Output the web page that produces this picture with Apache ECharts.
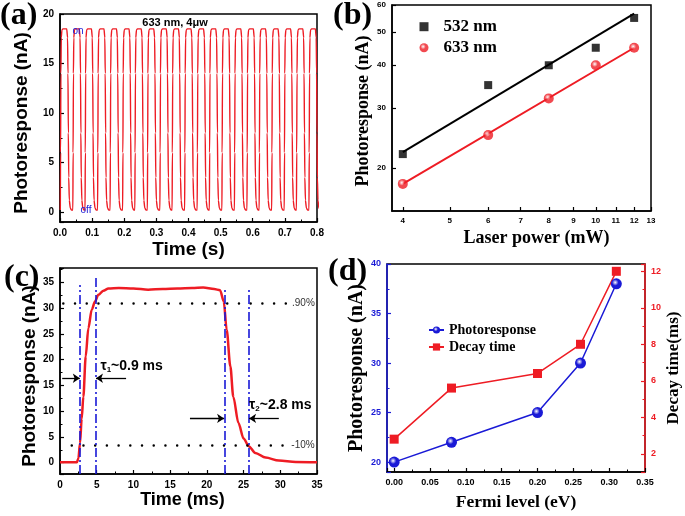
<!DOCTYPE html>
<html><head><meta charset="utf-8">
<script src="https://cdn.jsdelivr.net/npm/echarts@6/dist/echarts.min.js"></script>
<style>html,body{margin:0;padding:0;background:#fff}#c{width:685px;height:516px}</style>
</head><body><div id="c"></div>
<script>
// ---------- Panel (a): on/off square-wave response ----------
const aPulseStart = [0.001,0.040,0.078,0.117,0.156,0.195,0.233,0.272,0.311,0.349,0.388,0.427,0.465,0.504,0.543,0.582,0.620,0.659,0.698,0.736,0.775];
const aShapeOffset = [0,0.0008,0.0018,0.003,0.005,0.008,0.020,0.0225,0.0238,0.025,0.0262,0.028,0.031,0.035];
const aShapeValue  = [0.2,6,14,17.6,18.4,18.5,18.5,17.6,14,8,3.5,1.2,0.4,0.2];
const aNotes = ['633 nm, 4\u03bcw','on','off'];

// ---------- Panel (b): power dependence ----------
const bPower = [4,6,8,10,12];
const b532 = [22,35,40,45,55];
const b633 = [18,25,32,40,45];
const bFitPower = [4,12];
const bFit532 = [22.3,56.6];
const bFit633 = [18,45];
const bTicksX = [4,5,6,7,8,9,10,11,12,13];
const bTicksY = [20,30,40,50,60];

// ---------- Panel (c): single pulse ----------
const cTime  = [0,1,2,2.3,2.5,2.73,2.95,3.18,3.5,3.86,4.32,4.77,5.23,5.9,6.6,8,10,12,14,16,18,19.5,21,21.8,22.3,22.7,23.2,23.6,24.3,25.0,25.7,26.6,28.0,29.8,32.1,35];
const cValue = [0.1,0.1,0.1,0.1,0.8,3.8,8.5,12.8,20.6,26.1,29.7,31.3,32.6,33.4,33.8,33.9,33.8,33.6,33.7,33.8,33.9,34.0,33.7,33.5,31.3,25.8,18.7,12.8,7.7,4.7,3.2,1.9,1.0,0.4,0.15,0.1];
const cMarkTimes = [2.73,4.86,22.4,25.7];
const cMarkTops  = [34.5,36,34.1,34.1];
const cLevels = [31,3.3];
const cLevelText = ['.90%','-10%'];

// ---------- Panel (d): Fermi level ----------
const dFermi = [0,0.08,0.2,0.26,0.31];
const dPhoto = [20,22,25,30,38];
const dDecay = [2.8,5.6,6.4,8,12];

const SANS = 'Liberation Sans, Arial, sans-serif';
const SERIF = 'Liberation Serif, Times New Roman, serif';

function merge(a, b) {
  const o = Object.assign({}, a);
  for (const k in b) {
    const bv = b[k], av = a ? a[k] : undefined;
    if (bv && typeof bv === 'object' && !Array.isArray(bv) && av && typeof av === 'object' && !Array.isArray(av)) o[k] = merge(av, bv);
    else o[k] = bv;
  }
  return o;
}
const baseAxis = {
  type: 'value',
  axisLine: {show: true, onZero: false, lineStyle: {color: '#000', width: 1.5}},
  axisTick: {show: true, inside: true, length: 4, lineStyle: {color: '#000', width: 1.2}},
  minorTick: {show: true, splitNumber: 2, length: 2.5, lineStyle: {color: '#000', width: 1}},
  splitLine: {show: false},
  axisLabel: {fontSize: 10, fontWeight: 'bold', fontFamily: SANS, color: '#000', margin: 6},
  nameLocation: 'middle',
  nameTextStyle: {fontSize: 19, fontWeight: 'bold', fontFamily: SANS, color: '#000'}
};
const ax = o => merge(baseAxis, o);
const zip = (xs, ys) => xs.map((x, i) => [x, ys[i]]);
const ball = c => ({type: 'radial', x: 0.4, y: 0.38, r: 0.65, colorStops: [{offset: 0, color: '#ffffff'}, {offset: 0.45, color: c}, {offset: 1, color: c}]});
const near = (v, step) => Math.abs(v / step - Math.round(v / step)) < 1e-6;

const aSignal = [];
aPulseStart.forEach(s => aShapeOffset.forEach((o, i) => aSignal.push([+(s + o).toFixed(4), aShapeValue[i]])));

const BLUE = '#1a1ad6', RED = '#ee1c24';

const option = {
  animation: false,
  textStyle: {fontFamily: SANS},
  grid: [
    {left: 60, top: 14, width: 257, height: 208, show: true, borderColor: '#000', borderWidth: 1.5, backgroundColor: 'transparent'},
    {left: 392, top: 5, width: 259, height: 206, show: true, borderColor: '#000', borderWidth: 1.5, backgroundColor: 'transparent'},
    {left: 60, top: 268, width: 257, height: 206, show: true, borderColor: '#000', borderWidth: 1.5, backgroundColor: 'transparent'},
    {left: 387, top: 264, width: 258, height: 208, show: true, borderColor: '#000', borderWidth: 1.5, backgroundColor: 'transparent'}
  ],
  xAxis: [
    ax({gridIndex: 0, min: 0, max: 0.8, interval: 0.1, axisLabel: {formatter: v => v.toFixed(1)}, name: 'Time (s)', nameGap: 18}),
    ax({gridIndex: 1, type: 'log', logBase: 10, min: 3.8, max: 13, minorTick: {show: false},
        axisTick: {customValues: bTicksX}, axisLabel: {fontSize: 8, customValues: bTicksX, formatter: v => String(Math.round(v))},
        name: 'Laser power (mW)', nameGap: 18, nameTextStyle: {fontFamily: SERIF, fontSize: 18, padding: [0, 0, 0, 30]}}),
    ax({gridIndex: 2, min: 0, max: 35, interval: 5, name: 'Time (ms)', nameGap: 14, nameTextStyle: {fontSize: 18, padding: [0, 12, 0, 0]}}),
    ax({gridIndex: 3, min: -0.01, max: 0.35, splitNumber: 7, axisLabel: {fontSize: 9, formatter: v => (v >= 0 && near(v, 0.05)) ? v.toFixed(2) : ''},
        name: 'Fermi level (eV)', nameGap: 21, nameTextStyle: {fontFamily: SERIF, fontSize: 17.5}})
  ],
  yAxis: [
    ax({gridIndex: 0, min: -1, max: 20, splitNumber: 4, axisLabel: {formatter: v => (v >= 0 && near(v, 5)) ? String(Math.round(v)) : ''},
        name: 'Photoresponse (nA)', nameGap: 29, nameTextStyle: {padding: [0, 10, 0, 0]}}),
    ax({gridIndex: 1, type: 'log', logBase: 10, min: 15, max: 60, minorTick: {show: false},
        axisTick: {customValues: bTicksY}, axisLabel: {fontSize: 8, customValues: bTicksY, formatter: v => String(Math.round(v))},
        name: 'Photoresponse (nA)', nameGap: 20, nameTextStyle: {fontFamily: SERIF, fontSize: 18, padding: [0, 6, 0, 0]}}),
    ax({gridIndex: 2, min: -2.2, max: 37.8, splitNumber: 8, axisLabel: {formatter: v => (v >= 0 && v <= 35.01 && near(v, 5)) ? String(Math.round(v)) : ''},
        name: 'Photoresponse (nA)', nameGap: 18, nameTextStyle: {padding: [0, 10, 0, 0]}}),
    ax({gridIndex: 3, min: 19, max: 40, splitNumber: 4,
        axisLine: {lineStyle: {color: BLUE}}, axisTick: {lineStyle: {color: BLUE}}, minorTick: {lineStyle: {color: BLUE}},
        axisLabel: {fontSize: 9, color: BLUE, formatter: v => near(v, 5) ? String(Math.round(v)) : ''},
        name: 'Photoresponse (nA)', nameGap: 18, nameTextStyle: {fontFamily: SERIF, fontSize: 20}}),
    ax({gridIndex: 3, position: 'right', min: 1, max: 12.4, splitNumber: 6,
        axisLine: {lineStyle: {color: RED}}, axisTick: {lineStyle: {color: RED}}, minorTick: {lineStyle: {color: RED}},
        axisLabel: {fontSize: 9, color: RED, formatter: v => (near(v, 2) && v >= 2) ? String(Math.round(v)) : ''},
        name: 'Decay time(ms)', nameGap: 20, nameTextStyle: {fontFamily: SERIF, fontSize: 17}})
  ],
  legend: [
    {data: ['532 nm', '633 nm'], orient: 'vertical', left: 414.5, top: 12.7, itemWidth: 9, itemHeight: 9, itemGap: 3,
     textStyle: {fontFamily: SERIF, fontWeight: 'bold', fontSize: 17, color: '#000', lineHeight: 18, padding: [0, 0, 0, 10]}},
    {data: ['Photoresponse', 'Decay time'], orient: 'vertical', left: 423, top: 317, itemWidth: 15, itemHeight: 9, itemGap: 1,
     textStyle: {fontFamily: SERIF, fontWeight: 'bold', fontSize: 14, color: '#000', lineHeight: 16}}
  ],
  series: [
    {name: 'signal', type: 'line', xAxisIndex: 0, yAxisIndex: 0, data: aSignal, showSymbol: false, smooth: 0.2, smoothMonotone: 'x',
     lineStyle: {color: RED, width: 1.4}, itemStyle: {color: RED},
     markPoint: {symbol: 'circle', symbolSize: 0, silent: true, data: [
       {coord: [0.358, 19.1], label: {show: true, position: 'inside', formatter: aNotes[0], fontSize: 11, fontWeight: 'bold', color: '#000', fontFamily: SANS}},
       {coord: [0.056, 18.3], label: {show: true, position: 'inside', formatter: aNotes[1], fontSize: 10, color: BLUE, fontFamily: SANS}},
       {coord: [0.081, 0.2], label: {show: true, position: 'inside', formatter: aNotes[2], fontSize: 10, color: BLUE, fontFamily: SANS}}
     ]}},
    {name: 'fit532', type: 'line', xAxisIndex: 1, yAxisIndex: 1, data: zip(bFitPower, bFit532), showSymbol: false, lineStyle: {color: '#000', width: 2}, z: 2},
    {name: 'fit633', type: 'line', xAxisIndex: 1, yAxisIndex: 1, data: zip(bFitPower, bFit633), showSymbol: false, lineStyle: {color: RED, width: 2}, z: 2},
    {name: '532 nm', type: 'scatter', xAxisIndex: 1, yAxisIndex: 1, data: zip(bPower, b532), symbol: 'rect', symbolSize: 8, itemStyle: {color: '#000'}, z: 3},
    {name: '633 nm', type: 'scatter', xAxisIndex: 1, yAxisIndex: 1, data: zip(bPower, b633), symbol: 'circle', symbolSize: 10, itemStyle: {color: ball(RED)}, z: 3},
    {name: 'response', type: 'line', xAxisIndex: 2, yAxisIndex: 2, data: zip(cTime, cValue), showSymbol: false, smooth: 0.3, smoothMonotone: 'x',
     lineStyle: {color: RED, width: 2.5}, z: 3,
     markPoint: {symbol: 'circle', symbolSize: 0, silent: true, data: [
       {coord: [31.6, cLevels[0]], label: {show: true, position: 'inside', align: 'left', formatter: cLevelText[0], fontSize: 10, color: '#333'}},
       {coord: [31.5, cLevels[1]], label: {show: true, position: 'inside', align: 'left', formatter: cLevelText[1], fontSize: 10, color: '#333'}},
       {coord: [5.5, 18.7], label: {show: true, position: 'inside', align: 'left', formatter: '{t|\u03c4}{s|1}{t|~0.9 ms}',
         rich: {t: {fontSize: 14, fontWeight: 'bold', color: '#000'}, s: {fontSize: 8, fontWeight: 'bold', color: '#000', padding: [7, 0, 0, 0]}}}},
       {coord: [25.75, 11.1], label: {show: true, position: 'inside', align: 'left', formatter: '{t|\u03c4}{s|2}{t|~2.8 ms}',
         rich: {t: {fontSize: 14, fontWeight: 'bold', color: '#000'}, s: {fontSize: 8, fontWeight: 'bold', color: '#000', padding: [7, 0, 0, 0]}}}}
     ]},
     markLine: {silent: true, symbol: ['none', 'none'], label: {show: false}, lineStyle: {color: '#000', width: 2.5, type: [0.01, 11.7], cap: 'round'},
       data: [
         [{coord: [0.45, cLevels[0]]}, {coord: [31.0, cLevels[0]]}],
         [{coord: [1.6, cLevels[1]]}, {coord: [31.0, cLevels[1]]}]
       ]}},
    {name: 'marks', type: 'line', xAxisIndex: 2, yAxisIndex: 2, data: [], z: 4,
     markLine: {silent: true, symbol: ['none', 'none'], label: {show: false}, lineStyle: {color: BLUE, width: 1.6, type: [9, 3, 2, 3]},
       data: cMarkTimes.map((t, i) => [{coord: [t, -2.2]}, {coord: [t, cMarkTops[i]]}])}},
    {name: 'arrows', type: 'line', xAxisIndex: 2, yAxisIndex: 2, data: [], z: 4,
     markLine: {silent: true, symbol: ['none', 'arrow'], symbolSize: 7, label: {show: false}, lineStyle: {color: '#000', width: 1.3, type: 'solid'},
       data: [
         [{coord: [0.3, 16.4]}, {coord: [2.7, 16.4]}],
         [{coord: [9.0, 16.4]}, {coord: [4.9, 16.4]}],
         [{coord: [17.7, 8.6]}, {coord: [22.35, 8.6]}],
         [{coord: [29.8, 8.6]}, {coord: [25.75, 8.6]}]
       ]}},
    {name: 'Photoresponse', type: 'line', xAxisIndex: 3, yAxisIndex: 3, data: zip(dFermi, dPhoto), symbol: 'circle', symbolSize: 11, showAllSymbol: true,
     lineStyle: {color: BLUE, width: 1.5}, itemStyle: {color: ball(BLUE)}},
    {name: 'Decay time', type: 'line', xAxisIndex: 3, yAxisIndex: 4, data: zip(dFermi, dDecay), symbol: 'rect', symbolSize: 9,
     lineStyle: {color: RED, width: 1.5}, itemStyle: {color: RED}}
  ],
  graphic: [
    {type: 'text', left: 0, top: 0, style: {text: '(a)', font: 'bold 32px ' + SERIF, fill: '#000'}},
    {type: 'text', left: 333, top: 0, style: {text: '(b)', font: 'bold 32px ' + SERIF, fill: '#000'}},
    {type: 'text', left: 4, top: 262, style: {text: '(c)', font: 'bold 32px ' + SERIF, fill: '#000'}},
    {type: 'text', left: 328, top: 256, style: {text: '(d)', font: 'bold 32px ' + SERIF, fill: '#000'}}
  ]
};
const chart = echarts.init(document.getElementById('c'), null, {renderer: 'canvas'});
chart.setOption(option);
</script>
</body></html>
